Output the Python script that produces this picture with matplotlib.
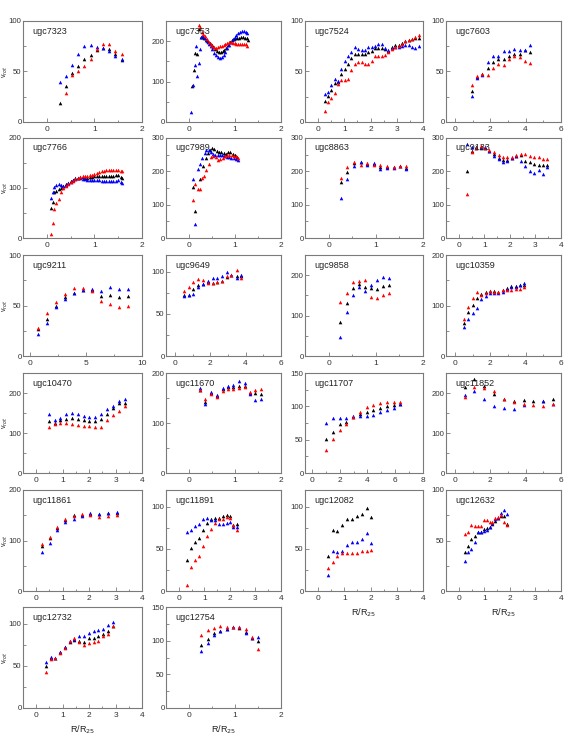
import numpy as np
import matplotlib
matplotlib.use("Agg")
import matplotlib.pyplot as plt
from matplotlib.ticker import MultipleLocator

plt.rcParams['font.family'] = ['Liberation Sans', 'DejaVu Sans']

nan = np.nan

# ---------------- data ----------------
x7323 = [0.27, 0.40, 0.53, 0.66, 0.79, 0.92, 1.05, 1.18, 1.31, 1.44, 1.57]
k7323 = [19, 36, 49, 55, 62, 66, 71, 73, 72, 67, 61]
b7323 = [40, 46, 56, 67, 75, 76, 74, 73, 70, 65, 62]
r7323 = [nan, 29, 47, 50, 55, 62, 72, 77, 77, 70, 67]

xk7353 = [0.07, 0.11, 0.14, 0.18, 0.21, 0.25, 0.29, 0.33, 0.37, 0.41, 0.45, 0.49, 0.53, 0.57, 0.61, 0.65,
          0.69, 0.73, 0.77, 0.81, 0.85, 0.89, 0.93, 0.97, 1.01, 1.05, 1.09, 1.13, 1.17, 1.21, 1.25, 1.28]
k7353 = [90, 129, 172, 168, 229, 210, 211, 208, 203, 199, 195, 190, 185, 180, 176, 174,
         174, 175, 178, 183, 190, 197, 202, 205, 207, 208, 209, 210, 210, 209, 207, 204]
xb7353 = [0.05, 0.08, 0.12, 0.15, 0.18, 0.21, 0.24, 0.27, 0.31, 0.35, 0.39, 0.43, 0.47, 0.51, 0.55, 0.59, 0.63,
          0.67, 0.71, 0.75, 0.79, 0.83, 0.87, 0.91, 0.95, 0.99, 1.03, 1.07, 1.11, 1.15, 1.19, 1.23, 1.27]
b7353 = [25, 92, 140, 187, 114, 146, 180, 210, 212, 207, 200, 193, 187, 180, 172, 165, 160,
         158, 160, 166, 174, 182, 190, 198, 205, 211, 216, 220, 223, 225, 225, 224, 221]
xr7353 = [0.21, 0.24, 0.28, 0.31, 0.35, 0.39, 0.43, 0.47, 0.51, 0.55, 0.59, 0.63, 0.67, 0.71, 0.75, 0.79,
          0.83, 0.87, 0.91, 0.95, 0.99, 1.03, 1.07, 1.11, 1.15, 1.19, 1.23, 1.27]
r7353 = [239, 235, 222, 218, 212, 205, 198, 192, 188, 185, 184, 185, 187, 189, 191, 193,
         195, 197, 197, 196, 195, 194, 194, 193, 193, 193, 192, 189]

x7524 = [0.25, 0.38, 0.50, 0.63, 0.76, 0.89, 1.02, 1.15, 1.27, 1.40, 1.53, 1.66, 1.79, 1.92, 2.04,
         2.17, 2.30, 2.43, 2.56, 2.68, 2.81, 2.94, 3.07, 3.20, 3.32, 3.45, 3.58, 3.71, 3.83]
k7524 = [21, 26, 32, 39, 40, 48, 52, 57, 63, 67, 67, 67, 67, 69, 70, 73, 73, 73, 72, 70, 74, 76, 76, 78, 80, 81, 82, 83, 83]
b7524 = [28, 30, 37, 43, 41, 52, 60, 65, 69, 74, 72, 71, 71, 74, 74, 75, 77, 77, 73, 71, 73, 74, 74, 75, 76, 76, 74, 73, 75]
r7524 = [11, 20, 24, 29, 38, 42, 42, 43, 51, 57, 59, 59, 57, 57, 60, 65, 65, 65, 66, 69, 72, 74, 75, 77, 80, 81, 82, 84, 86]

x7603 = [0.96, 1.26, 1.56, 1.86, 2.16, 2.46, 2.76, 3.06, 3.36, 3.66, 3.96, 4.26]
k7603 = [31, 45, 48, 53, 59, 62, 62, 65, 67, 67, 71, 69]
b7603 = [26, 44, 47, 59, 65, 65, 70, 70, 72, 71, 71, 76]
r7603 = [37, 46, 48, 47, 53, 57, 56, 62, 65, 64, 60, 58]

x7766 = [0.08, 0.12, 0.16, 0.20, 0.25, 0.30, 0.35, 0.40, 0.45, 0.50, 0.55, 0.60, 0.65, 0.70, 0.75, 0.80,
         0.85, 0.90, 0.95, 1.00, 1.05, 1.10, 1.15, 1.20, 1.25, 1.30, 1.35, 1.40, 1.45, 1.50, 1.55, 1.58]
k7766 = [60, 72, 92, 95, 98, 100, 104, 108, 111, 114, 117, 120, 121, 122, 122, 121,
         121, 122, 123, 124, 124, 125, 125, 124, 124, 124, 124, 125, 126, 127, 123, 121]
b7766 = [81, 93, 103, 107, 108, 106, 104, 107, 110, 113, 116, 119, 120, 120, 119, 118,
         117, 117, 117, 117, 116, 116, 115, 115, 114, 114, 114, 114, 115, 116, 112, 110]
r7766 = [9, 30, 59, 71, 79, 93, 100, 105, 108, 112, 115, 118, 121, 123, 124, 124,
         125, 126, 127, 128, 130, 132, 134, 135, 136, 136, 136, 136, 136, 136, 135, 134]

xk7989 = [0.09, 0.14, 0.24, 0.31, 0.36, 0.41, 0.46, 0.50, 0.55, 0.60, 0.65, 0.70, 0.75, 0.80, 0.85, 0.90, 0.95, 1.00, 1.05]
k7989 = [152, 80, 178, 215, 240, 255, 265, 270, 268, 262, 258, 258, 255, 253, 258, 257, 252, 248, 243]
xb7989 = [0.09, 0.14, 0.19, 0.24, 0.29, 0.34, 0.38, 0.43, 0.48, 0.52, 0.57, 0.62, 0.67, 0.72, 0.77,
          0.82, 0.87, 0.92, 0.97, 1.02, 1.07]
b7989 = [177, 42, 208, 222, 240, 255, 265, 265, 258, 252, 250, 250, 250, 248, 245, 242, 242, 241, 240, 237, 233]
xr7989 = [0.09, 0.12, 0.19, 0.24, 0.29, 0.33, 0.38, 0.43, 0.48, 0.53, 0.58, 0.63, 0.68, 0.73, 0.78,
          0.83, 0.88, 0.93, 0.98, 1.03, 1.07]
r7989 = [113, 163, 148, 148, 180, 185, 205, 223, 243, 247, 242, 235, 236, 240, 245, 248, 250, 250, 247, 246, 240]

x8863 = [0.26, 0.40, 0.54, 0.68, 0.82, 0.96, 1.09, 1.24, 1.38, 1.52, 1.65]
k8863 = [167, 197, 225, 227, 222, 222, 212, 212, 212, 215, 210]
b8863 = [120, 178, 215, 229, 219, 224, 207, 210, 210, 215, 207]
r8863 = [179, 214, 229, 220, 224, 219, 218, 215, 214, 217, 217]

x9133 = [0.33, 0.51, 0.69, 0.86, 1.03, 1.20, 1.39, 1.56, 1.74, 1.90, 2.07, 2.25, 2.42, 2.61, 2.78,
         2.96, 3.13, 3.29, 3.47]
k9133 = [200, 262, 272, 270, 270, 262, 253, 240, 235, 235, 240, 245, 250, 232, 228, 222, 220, 218, 218]
b9133 = [283, 273, 270, 272, 272, 260, 245, 237, 228, 232, 240, 245, 232, 215, 200, 195, 205, 192, 212]
r9133 = [131, 257, 270, 275, 270, 265, 257, 248, 244, 242, 242, 248, 253, 252, 245, 243, 243, 238, 237]

x9211 = [0.75, 1.55, 2.35, 3.15, 3.95, 4.75, 5.55, 6.35, 7.15, 7.95, 8.75]
k9211 = [27, 37, 50, 58, 62, 65, 65, 59, 60, 58, 59]
b9211 = [22, 33, 49, 56, 62, 65, 66, 64, 68, 66, 66]
r9211 = [28, 43, 53, 61, 67, 67, 64, 54, 51, 49, 50]

x9649 = [0.52, 0.80, 1.05, 1.31, 1.59, 1.85, 2.14, 2.40, 2.68, 2.95, 3.20, 3.49, 3.76]
k9649 = [72, 73, 80, 84, 86, 88, 87, 88, 89, 94, 96, 95, 95]
b9649 = [71, 72, 74, 82, 86, 89, 93, 93, 95, 100, 96, 93, 96]
r9649 = [77, 82, 88, 91, 90, 87, 87, 88, 89, 95, 96, 102, 93]

x9858 = [0.25, 0.38, 0.51, 0.64, 0.77, 0.89, 1.02, 1.16, 1.29]
k9858 = [83, 132, 168, 177, 171, 168, 165, 174, 176]
b9858 = [47, 109, 151, 170, 162, 176, 189, 196, 194]
r9858 = [133, 157, 182, 185, 188, 145, 143, 151, 156]

x10359 = [0.50, 0.74, 1.00, 1.24, 1.50, 1.74, 1.98, 2.22, 2.46, 2.70, 2.94, 3.19, 3.43, 3.67, 3.89]
k10359 = [65, 87, 101, 114, 122, 126, 128, 128, 126, 130, 134, 138, 138, 140, 140]
b10359 = [57, 73, 85, 96, 113, 118, 124, 124, 124, 126, 133, 137, 137, 141, 144]
r10359 = [73, 98, 115, 127, 120, 125, 128, 126, 127, 130, 130, 131, 132, 133, 137]

x10470 = [0.47, 0.72, 0.91, 1.14, 1.35, 1.57, 1.80, 2.01, 2.24, 2.46, 2.68, 2.90, 3.13, 3.35]
k10470 = [131, 125, 132, 135, 137, 135, 133, 131, 130, 135, 148, 162, 174, 175]
b10470 = [147, 132, 137, 147, 149, 148, 143, 140, 139, 147, 160, 168, 179, 186]
r10470 = [116, 122, 126, 124, 123, 121, 117, 117, 116, 116, 132, 146, 154, 168]

x11670 = [0.24, 0.35, 0.48, 0.61, 0.73, 0.85, 0.96, 1.09, 1.21, 1.32, 1.44, 1.56]
k11670 = [167, 142, 160, 155, 168, 172, 172, 175, 174, 160, 160, 158]
b11670 = [171, 138, 163, 157, 170, 175, 176, 184, 180, 158, 146, 148]
r11670 = [166, 148, 158, 152, 165, 168, 168, 170, 172, 162, 167, 168]

x11707 = [1.00, 1.50, 2.00, 2.45, 2.95, 3.44, 3.94, 4.42, 4.93, 5.40, 5.89, 6.37]
k11707 = [51, 62, 73, 77, 84, 88, 92, 94, 97, 100, 102, 104]
b11707 = [75, 82, 82, 82, 86, 86, 85, 87, 91, 95, 97, 103]
r11707 = [35, 51, 64, 74, 84, 92, 99, 102, 105, 106, 106, 107]

x11852 = [0.56, 1.11, 1.67, 2.22, 2.78, 3.33, 3.89, 4.44, 5.00, 5.56]
k11852 = [216, 235, 217, 198, 186, 180, 183, 180, 181, 185]
b11852 = [194, 205, 186, 167, 162, 160, 171, nan, 180, 172]
r11852 = [191, 215, 212, 205, 184, 177, 172, 171, 167, 172]

x11861 = [0.22, 0.52, 0.80, 1.10, 1.42, 1.74, 2.05, 2.37, 2.70, 3.05]
k11861 = [90, 104, 124, 141, 150, 151, 152, 153, 154, 155]
b11861 = [77, 95, 120, 137, 143, 148, 154, 153, 154, 157]
r11861 = [93, 106, 126, 143, 149, 152, 150, 146, 148, 150]

x11891 = [0.31, 0.48, 0.63, 0.78, 0.94, 1.09, 1.25, 1.41, 1.56, 1.72, 1.87, 1.99, 2.14, 2.29]
k11891 = [37, 51, 58, 63, 72, 81, 85, 87, 87, 89, 90, 89, 78, 80]
b11891 = [70, 73, 77, 80, 86, 87, 84, 84, 80, 80, 81, 82, 76, 76]
r11891 = [7, 29, 37, 42, 53, 65, 74, 81, 85, 86, 88, 87, 78, 72]

x12082 = [0.38, 0.55, 0.73, 0.92, 1.11, 1.29, 1.47, 1.66, 1.85, 2.03]
k12082 = [41, 72, 71, 79, 85, 86, 89, 92, 99, 88]
b12082 = [19, 47, 46, 47, 55, 58, 58, 62, 69, 57]
r12082 = [27, 35, 41, 45, 45, 45, 45, 47, 47, 49]

x12632 = [0.26, 0.38, 0.49, 0.62, 0.74, 0.85, 0.97, 1.09, 1.21, 1.31, 1.41, 1.54, 1.64, 1.77, 1.90]
k12632 = [39, 45, 51, 54, 58, 58, 61, 62, 63, 66, 69, 72, 74, 74, 66]
b12632 = [30, 39, 42, 49, 58, 58, 59, 60, 63, 67, 71, 72, 77, 80, 76]
r12632 = [56, 58, 65, 64, 64, 64, 70, 70, 68, 68, 72, 73, 75, 68, 65]

x12732 = [0.38, 0.56, 0.72, 0.91, 1.10, 1.27, 1.44, 1.63, 1.80, 1.99, 2.18, 2.35, 2.53, 2.71, 2.90]
k12732 = [50, 60, 60, 66, 72, 79, 81, 80, 79, 83, 83, 85, 88, 92, 98]
b12732 = [55, 61, 60, 67, 73, 80, 82, 86, 86, 89, 91, 93, 94, 99, 102]
r12732 = [43, 58, 60, 65, 71, 80, 83, 79, 75, 77, 78, 80, 85, 88, 98]

x12754 = [0.27, 0.41, 0.54, 0.68, 0.82, 0.95, 1.09, 1.23, 1.37, 1.51]
k12754 = [93, 103, 111, 115, 118, 120, 119, 113, 104, 100]
b12754 = [85, 96, 108, 115, 118, 121, 120, 112, 104, 106]
r12754 = [109, 116, 119, 122, 120, 121, 121, 117, 106, 87]

names = ["ugc7323", "ugc7353", "ugc7524", "ugc7603",
         "ugc7766", "ugc7989", "ugc8863", "ugc9133",
         "ugc9211", "ugc9649", "ugc9858", "ugc10359",
         "ugc10470", "ugc11670", "ugc11707", "ugc11852",
         "ugc11861", "ugc11891", "ugc12082", "ugc12632",
         "ugc12732", "ugc12754"]

series = [
    [(x7323, k7323), (x7323, b7323), (x7323, r7323)],
    [(xk7353, k7353), (xb7353, b7353), (xr7353, r7353)],
    [(x7524, k7524), (x7524, b7524), (x7524, r7524)],
    [(x7603, k7603), (x7603, b7603), (x7603, r7603)],
    [(x7766, k7766), (x7766, b7766), (x7766, r7766)],
    [(xk7989, k7989), (xb7989, b7989), (xr7989, r7989)],
    [(x8863, k8863), (x8863, b8863), (x8863, r8863)],
    [(x9133, k9133), (x9133, b9133), (x9133, r9133)],
    [(x9211, k9211), (x9211, b9211), (x9211, r9211)],
    [(x9649, k9649), (x9649, b9649), (x9649, r9649)],
    [(x9858, k9858), (x9858, b9858), (x9858, r9858)],
    [(x10359, k10359), (x10359, b10359), (x10359, r10359)],
    [(x10470, k10470), (x10470, b10470), (x10470, r10470)],
    [(x11670, k11670), (x11670, b11670), (x11670, r11670)],
    [(x11707, k11707), (x11707, b11707), (x11707, r11707)],
    [(x11852, k11852), (x11852, b11852), (x11852, r11852)],
    [(x11861, k11861), (x11861, b11861), (x11861, r11861)],
    [(x11891, k11891), (x11891, b11891), (x11891, r11891)],
    [(x12082, k12082), (x12082, b12082), (x12082, r12082)],
    [(x12632, k12632), (x12632, b12632), (x12632, r12632)],
    [(x12732, k12732), (x12732, b12732), (x12732, r12732)],
    [(x12754, k12754), (x12754, b12754), (x12754, r12754)],
]

# axis ranges: (xmin, xmax, xstep, ymax, ystep)
ranges = [
    (-0.5, 2, 1, 100, 50), (-0.5, 2, 1, 250, 100), (-0.5, 4, 1, 100, 50), (-0.5, 6, 2, 100, 50),
    (-0.5, 2, 1, 200, 100), (-0.5, 2, 1, 300, 100), (-0.5, 2, 1, 300, 100), (-0.5, 4, 1, 300, 100),
    (-0.6, 10, 5, 100, 50), (-0.5, 6, 2, 120, 50), (-0.5, 2, 1, 250, 100), (-0.5, 6, 2, 200, 100),
    (-0.5, 4, 1, 250, 100), (-0.5, 2, 1, 200, 100), (-0.5, 8, 2, 150, 50), (-0.5, 6, 2, 250, 100),
    (-0.5, 4, 1, 200, 100), (-0.5, 4, 1, 120, 50), (-0.5, 4, 1, 120, 50), (-0.5, 4, 1, 100, 50),
    (-0.5, 4, 1, 120, 50), (-0.5, 2, 1, 150, 50),
]

colors = ["#000000", "#0000ff", "#ff0000"]

W, H = 568, 743
col_px = [(23, 142), (166, 281), (305, 423), (446, 561)]
row_px = [(21, 122), (138, 238), (255, 356), (373, 473), (490, 591), (607, 708)]

fig = plt.figure(figsize=(W / 100, H / 100), dpi=100)
frame_c = "#7a7a7a"
xlabel_panels = {"ugc12732", "ugc12754", "ugc12082", "ugc12632"}

for i, name in enumerate(names):
    r, c = divmod(i, 4)
    x0, x1 = col_px[c]
    y0, y1 = row_px[r]
    ax = fig.add_axes([x0 / W, 1 - y1 / H, (x1 - x0) / W, (y1 - y0) / H])
    for (xs, ys), col in zip(series[i], colors):
        ax.plot(xs, ys, linestyle='none', marker='^', ms=2.6, color=col, mec='none')
    xmin, xmax, xs_, ymax, ys_ = ranges[i]
    ax.set_xlim(xmin, xmax)
    ax.set_ylim(0, ymax)
    ax.xaxis.set_major_locator(MultipleLocator(xs_))
    ax.xaxis.set_minor_locator(MultipleLocator(xs_ / 2))
    ax.yaxis.set_major_locator(MultipleLocator(ys_))
    ax.yaxis.set_minor_locator(MultipleLocator(ys_ / 2))
    ax.tick_params(which='both', direction='in', colors=frame_c, labelcolor='#333333',
                   labelsize=6, width=0.6, pad=3)
    ax.tick_params(axis='y', which='major', pad=1, labelsize=5.6)
    ax.tick_params(which='major', length=3)
    ax.tick_params(which='minor', length=1.8)
    for s in ax.spines.values():
        s.set_color(frame_c)
        s.set_linewidth(0.8)
    ax.text(0.08, 0.9, name, transform=ax.transAxes, fontsize=6.5, color='#222222',
            va='center', ha='left')
    if c == 0:
        fig.text(5.2 / W, 1 - (y0 + y1) / 2 / H, "v$_{rot}$", fontsize=5, color='#222222',
                 rotation=90, ha='center', va='center')
    if name in xlabel_panels:
        ax.set_xlabel("R/R$_{25}$", fontsize=6.5, color='#222222', labelpad=3)

fig.savefig("out.png", dpi=100)
